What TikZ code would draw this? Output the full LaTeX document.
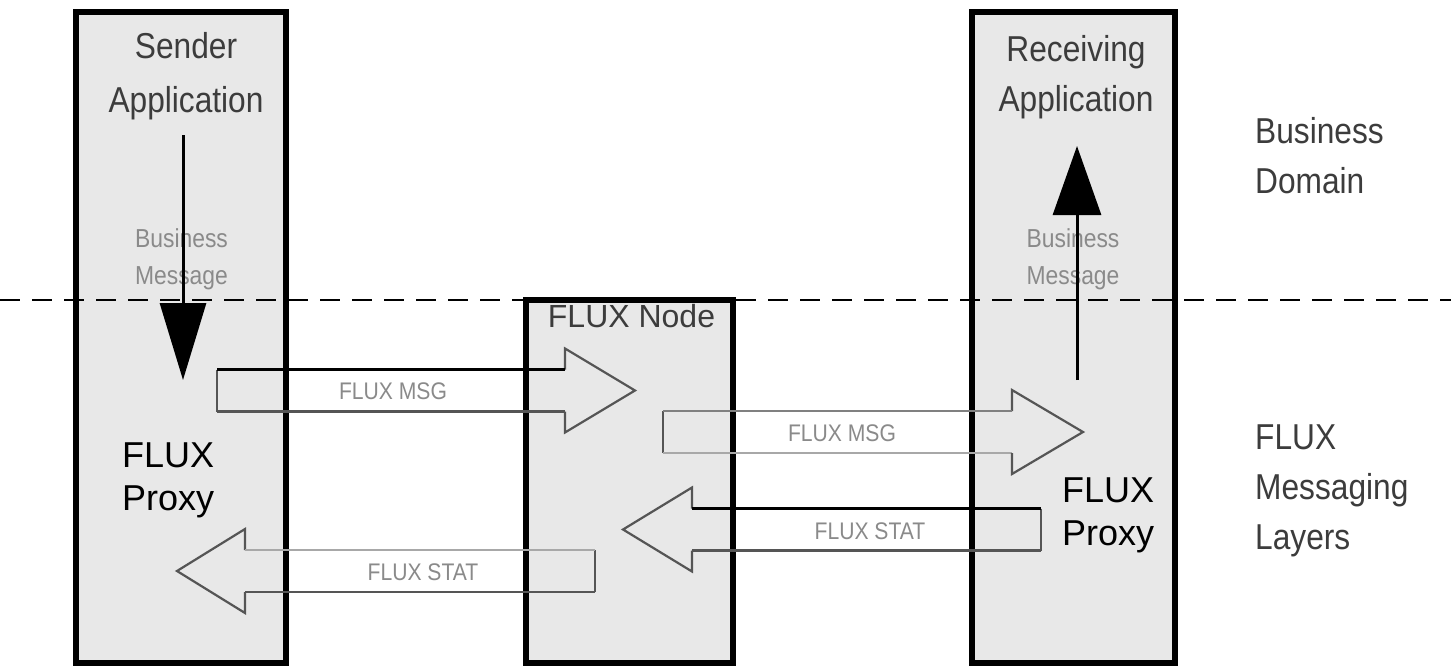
\documentclass[tikz,border=0pt]{standalone}
\usepackage{fontspec}
\setmainfont{Liberation Sans}
\newfontfamily\condf{Liberation Sans}[FakeStretch=0.88]
\usetikzlibrary{arrows.meta}
\definecolor{boxfill}{HTML}{E8E8E8}
\definecolor{darktext}{HTML}{3C3C3C}
\definecolor{lighttext}{HTML}{8A8A8A}
\definecolor{edgedark}{HTML}{555555}
\definecolor{edgelight}{HTML}{A8A8A8}
\tikzset{
  appbox/.style={draw=black, line width=6pt, fill=boxfill, inner sep=0pt, outer sep=0pt},
  biglabel/.style={inner sep=0pt, text=darktext, font=\condf\fontsize{36}{50}\selectfont},
  titlelabel/.style={inner sep=0pt, text=darktext, align=center, font=\condf\fontsize{36}{54}\selectfont},
  proxylabel/.style={inner sep=0pt, text=black, align=left, font=\fontsize{36}{43}\selectfont},
  nodelabel/.style={inner sep=0pt, text=darktext, font=\fontsize{32}{32}\selectfont},
  bizlabel/.style={inner sep=0pt, text=lighttext, align=center, font=\condf\fontsize{26}{37}\selectfont},
  msglabel/.style={inner sep=0pt, text=lighttext, font=\condf\fontsize{24}{24}\selectfont},
  bizarrow/.style={line width=3pt, draw=black},
  separator/.style={line width=2.5pt, dash pattern=on 20pt off 12pt},
  blockedge/.style={line width=2.2pt, line join=miter},
}
% #1 start of shaft, #2 head base, #3 tip, #4 centre y, #5 top colour, #6 bottom colour
\newcommand{\blockarrow}[6]{%
  \draw[blockedge, draw=edgedark] (#1,#4-21) -- (#1,#4+21);
  \draw[blockedge, draw=#6] (#1,#4+21) -- (#2,#4+21);
  \draw[blockedge, draw=edgedark] (#2,#4+21) -- (#2,#4+42) -- (#3,#4) -- (#2,#4-42) -- (#2,#4-21);
  \draw[blockedge, draw=#5] (#2,#4-21) -- (#1,#4-21);
}
\begin{document}
\begin{tikzpicture}[x=1pt, y=-1pt]
\useasboundingbox[fill=white] (0,0) rectangle (1451,670);

% boxes
\node[appbox, minimum width=210pt, minimum height=651pt] (sender) at (181,337.5) {};
\node[appbox, minimum width=207pt, minimum height=363pt] (fluxnode) at (629.5,481.5) {};
\node[appbox, minimum width=203pt, minimum height=651pt] (receiver) at (1073.5,337.5) {};

% layer separator
\coordinate (sepL) at (0,300);
\coordinate (sepR) at (1451,300);
\draw[separator] (sepL) -- (sepR);

% box titles
\node[titlelabel] (sendertitle) at (186,76) {Sender\\Application};
\node[biglabel, align=center] (receivertitle) at (1076,77) {Receiving\\Application};
\node[nodelabel] (nodetitle) at (631.5,316) {FLUX Node};
\node[proxylabel, anchor=west] (proxyL) at (122,480) {FLUX\\Proxy};
\node[proxylabel, anchor=west] (proxyR) at (1062,515) {FLUX\\Proxy};

% layer names
\node[biglabel, align=left, anchor=west] (bizdomain) at (1255,156) {Business\\Domain};
\node[biglabel, align=left, anchor=west] (fluxlayers) at (1255,491) {FLUX\\Messaging\\Layers};

% business message arrows
\node[bizlabel] (bizmsgL) at (181.5,259) {Business\\Message};
\node[bizlabel] (bizmsgR) at (1073,259) {Business\\Message};
\coordinate (downS) at (183,135);
\coordinate (downE) at (183,380);
\draw[bizarrow, -{Triangle[length=77pt, width=46pt]}] (downS) -- (downE);
\coordinate (upS) at (1077,380);
\coordinate (upE) at (1077,146);
\draw[bizarrow, -{Triangle[length=69pt, width=48pt]}] (upS) -- (upE);

% block arrows
\blockarrow{217}{565}{635}{390.5}{black}{edgedark}
\node[msglabel] (msg1) at (393,391.5) {FLUX MSG};
\blockarrow{663}{1012}{1083}{432}{gray}{edgelight}
\node[msglabel] (msg2) at (842,433) {FLUX MSG};
\blockarrow{1041}{692}{623}{529.5}{black}{edgedark}
\node[msglabel] (stat1) at (870,531) {FLUX STAT};
\blockarrow{595}{245}{177}{571}{edgelight}{edgedark}
\node[msglabel] (stat2) at (423,572) {FLUX STAT};
\end{tikzpicture}
\end{document}
